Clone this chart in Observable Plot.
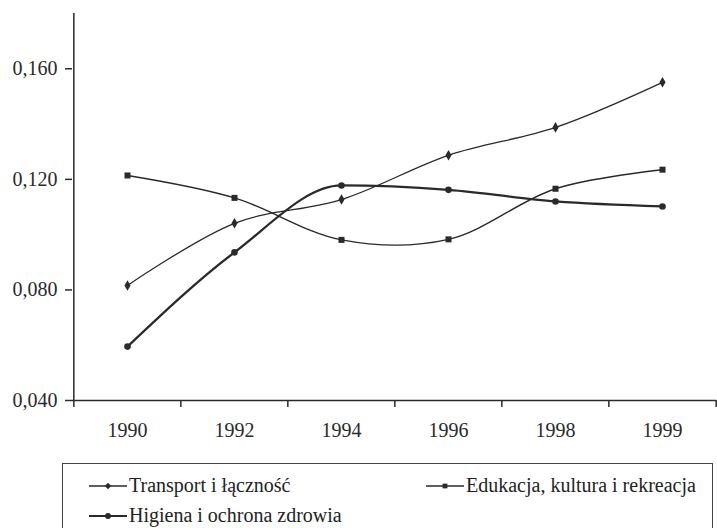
<!DOCTYPE html>
<html>
<head>
<meta charset="utf-8">
<script src="https://cdn.jsdelivr.net/npm/d3@7"></script>
<script src="https://cdn.jsdelivr.net/npm/@observablehq/plot@0.6"></script>
<style>
  html, body { margin: 0; padding: 0; background: #fff; overflow: hidden; }
  body { font-family: "Liberation Serif", "Times New Roman", serif; color: #222; width: 717px; height: 528px; position: relative; }
  #legend { position: absolute; left: 62px; top: 463px; width: 651px; height: 90px; border: 1px solid #444; box-sizing: border-box; font-size: 20px; }
  .item { position: absolute; display: flex; align-items: center; white-space: nowrap; }
  .item svg { margin-right: 1px; }
</style>
</head>
<body>
<div id="chart"></div>
<div id="legend"></div>
<script>
const years = ["1990", "1992", "1994", "1996", "1998", "1999"];
const transport = [0.0816, 0.1041, 0.1127, 0.1287, 0.1388, 0.1551];
const edukacja  = [0.1214, 0.1133, 0.0981, 0.0983, 0.1166, 0.1235];
const higiena   = [0.0595, 0.0936, 0.1178, 0.1162, 0.1120, 0.1102];
const seriesNames = ["Transport i łączność", "Edukacja, kultura i rekreacja", "Higiena i ochrona zdrowia"];
const yTicks = [0.04, 0.08, 0.12, 0.16];

const seriesStyle = [
  {symbol: "diamond", r: 3.2, sw: 1.3, curve: "catmull-rom"},
  {symbol: "square", r: 3.4, sw: 1.4, curve: "catmull-rom"},
  {symbol: "circle", r: 3.3, sw: 2.3, curve: "monotone-x"}
];
const allSeries = [transport, edukacja, higiena];
const data = allSeries.flatMap((vals, s) => years.map((y, i) => ({year: y, value: vals[i], series: seriesNames[s]})));

const W = 717, H = 455, mL = 72, mR = 1, mT = 13, mB = 55;
const step = (W - mL - mR) / years.length;
const ink = "#2a2a2a";

const marks = [
  Plot.ruleY([0.04], {stroke: ink, strokeWidth: 1.5}),
  Plot.ruleX([years[0]], {dx: -step / 2, stroke: ink, strokeWidth: 1.5}),
  Plot.axisX({ticks: years, tickSize: 7, dx: -step / 2, text: null, label: null, stroke: ink, strokeWidth: 1.5}),
  Plot.axisX({ticks: years.slice(-1), tickSize: 7, dx: step / 2, text: null, label: null, stroke: ink, strokeWidth: 1.5}),
  Plot.axisX({ticks: years, tickSize: 0, tickPadding: 22, fontSize: 20, fill: ink, label: null}),
  Plot.axisY({ticks: yTicks, tickSize: 7, tickPadding: 8, fontSize: 20, fill: ink, stroke: ink, strokeWidth: 1.5, label: null,
    tickFormat: d => d3.format(".3f")(d).replace(".", ",")})
];
seriesNames.forEach((name, s) => {
  const d = data.filter(r => r.series === name);
  marks.push(Plot.line(d, {x: "year", y: "value", curve: seriesStyle[s].curve, stroke: ink, strokeWidth: seriesStyle[s].sw}));
  marks.push(Plot.dot(d, {x: "year", y: "value", symbol: () => seriesStyle[s].symbol, r: seriesStyle[s].r, fill: ink, stroke: "none"}));
});

const chart = Plot.plot({
  width: W, height: H,
  marginLeft: mL, marginRight: mR, marginTop: mT, marginBottom: mB,
  style: {fontFamily: "Liberation Serif, Times New Roman, serif", fontSize: "20px", color: ink, background: "#fff"},
  x: {type: "point", domain: years, padding: 0.5, axis: null, label: null},
  y: {domain: [0.04, 0.18], axis: null, label: null},
  symbol: {type: "identity"},
  marks
});
document.getElementById("chart").appendChild(chart);

// legend
const legend = document.getElementById("legend");
const pos = [{left: 25, top: 10}, {left: 362, top: 10}, {left: 25, top: 40}];
seriesNames.forEach((name, s) => {
  const it = document.createElement("div");
  it.className = "item";
  it.style.left = pos[s].left + "px";
  it.style.top = pos[s].top + "px";
  const st = seriesStyle[s];
  const sym = d3.symbol(st.symbol === "diamond" ? d3.symbolDiamond2 : st.symbol === "square" ? d3.symbolSquare2 : d3.symbolCircle, Math.PI * st.r * st.r * 0.8)();
  it.innerHTML = `<svg width="40" height="14"><line x1="1" x2="39" y1="7" y2="7" stroke="${ink}" stroke-width="${Math.min(st.sw, 2)}"/><path d="${sym}" transform="translate(20,7)" fill="${ink}"/></svg><span>${name}</span>`;
  legend.appendChild(it);
});
</script>
</body>
</html>
